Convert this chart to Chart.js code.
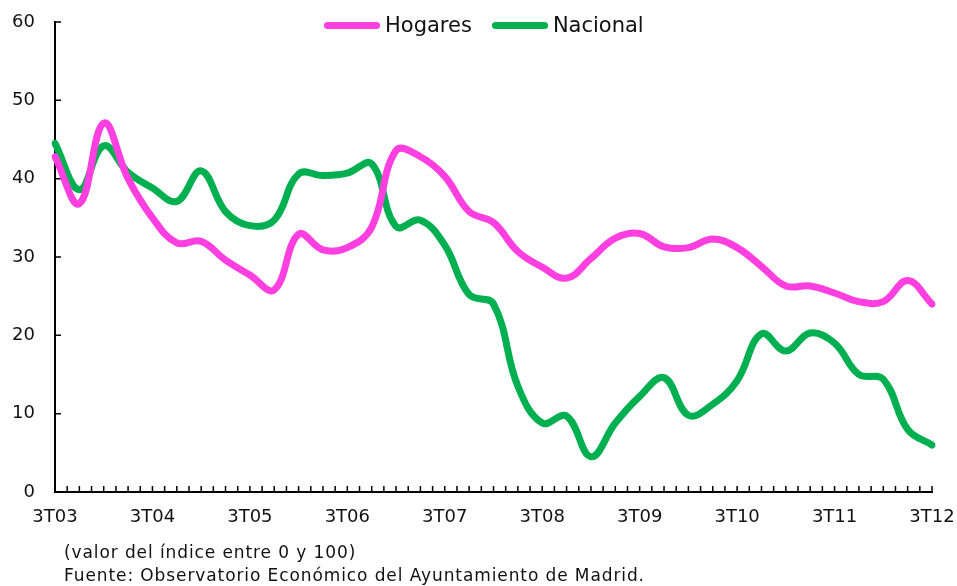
<!DOCTYPE html>
<html>
<head>
<meta charset="utf-8">
<script src="https://cdn.jsdelivr.net/npm/chart.js@4"></script>
<style>
  body { margin: 0; background: #fff; }
  #wrap { position: relative; width: 957px; height: 586px; }
  #legend { position: absolute; left: 324px; top: 13px; display: flex; align-items: center;
            font: 21px "DejaVu Sans", sans-serif; color: #111; white-space: nowrap; }
  #legend .item { display: flex; align-items: center; margin-right: 20px; }
  #legend .swatch { width: 56px; height: 7px; border-radius: 4px; margin-right: 5px; }
  #note { position: absolute; left: 64px; top: 541px; font: 17px "DejaVu Sans", sans-serif;
          color: #111; line-height: 23px; letter-spacing: 0.9px; white-space: nowrap; }
</style>
</head>
<body>
<div id="wrap">
  <canvas id="myChart" width="957" height="586"></canvas>
  <div id="legend"></div>
  <div id="note">(valor del índice entre 0 y 100)<br>Fuente: Observatorio Económico del Ayuntamiento de Madrid.</div>
</div>
<script>
// quarters, 3T03 .. 3T12
var quarters = ['3T03','4T03','1T04','2T04','3T04','4T04','1T05','2T05','3T05','4T05','1T06','2T06',
                '3T06','4T06','1T07','2T07','3T07','4T07','1T08','2T08','3T08','4T08','1T09','2T09',
                '3T09','4T09','1T10','2T10','3T10','4T10','1T11','2T11','3T11','4T11','1T12','2T12','3T12'];

// índice de confianza de los hogares (Madrid)
var hogares = [42.8, 36.8, 47.1, 40.0, 35.0, 31.8, 32.0, 29.6, 27.7, 25.8, 32.9, 30.9,
               31.2, 33.8, 43.6, 42.8, 40.3, 35.8, 34.4, 30.7, 28.7, 27.3, 29.8, 32.4,
               33.0, 31.3, 31.2, 32.3, 31.2, 28.8, 26.3, 26.3, 25.4, 24.3, 24.3, 27.0, 24.0];

// índice nacional
var nacional = [44.5, 38.6, 44.2, 40.8, 38.8, 37.1, 41.0, 35.8, 34.0, 34.7, 40.6, 40.4,
                40.7, 41.9, 33.9, 34.7, 31.5, 25.2, 24.0, 13.5, 8.8, 9.7, 4.5, 8.8,
                12.2, 14.6, 9.8, 11.2, 14.2, 20.2, 18.0, 20.3, 19.0, 15.0, 14.4, 8.0, 6.0];

var yTicks = [0, 10, 20, 30, 40, 50, 60];

Chart.defaults.font.family = '"DejaVu Sans", sans-serif';
Chart.defaults.color = '#111';

// tick marks drawn inside the plot, as in the original
var innerTicks = {
    id: 'innerTicks',
    beforeDatasetsDraw: function(chart) {
        var ctx = chart.ctx, xs = chart.scales.x, ys = chart.scales.y, area = chart.chartArea;
        ctx.save();
        ctx.strokeStyle = '#000';
        ctx.lineWidth = 1.5;
        ctx.beginPath();
        for (var i = 0; i < quarters.length; i++) {
            var px = xs.getPixelForValue(i);
            ctx.moveTo(px, area.bottom); ctx.lineTo(px, area.bottom - 6);
            if (i < quarters.length - 1) {
                var mid = (px + xs.getPixelForValue(i + 1)) / 2;
                ctx.moveTo(mid, area.bottom); ctx.lineTo(mid, area.bottom - 6);
            }
        }
        ys.ticks.forEach(function(t) {
            var py = ys.getPixelForValue(t.value);
            ctx.moveTo(area.left, py); ctx.lineTo(area.left + 6, py);
        });
        ctx.stroke();
        ctx.restore();
    }
};

var ctx = document.getElementById('myChart').getContext('2d');
var myChart = new Chart(ctx, {
    type: 'line',
    data: {
        labels: quarters,
        datasets: [{
            label: 'Hogares',
            data: hogares,
            borderColor: '#ff3fe0',
            backgroundColor: '#ff3fe0'
        }, {
            label: 'Nacional',
            data: nacional,
            borderColor: '#00b050',
            backgroundColor: '#00b050'
        }]
    },
    options: {
        responsive: false,
        animation: false,
        layout: { padding: { top: 22, right: 25, left: 0, bottom: 0 } },
        elements: {
            line: { borderWidth: 7, tension: 0.4, borderCapStyle: 'round', borderJoinStyle: 'round', fill: false },
            point: { radius: 0, hoverRadius: 0 }
        },
        plugins: { legend: { display: false }, tooltip: { enabled: false } },
        scales: {
            x: {
                afterFit: function(s) { s.height = 94; s.paddingLeft = 0; s.paddingRight = 0; },
                grid: { drawOnChartArea: false, drawTicks: false },
                border: { color: '#000', width: 2 },
                ticks: {
                    autoSkip: false, maxRotation: 0, padding: 15,
                    font: { size: 18 },
                    callback: function(val, idx) { return idx % 4 === 0 ? quarters[idx] : ''; }
                }
            },
            y: {
                min: 0, max: 60,
                afterFit: function(s) { s.width = 55; s.paddingTop = 0; s.paddingBottom = 0; },
                afterBuildTicks: function(s) { s.ticks = yTicks.map(function(v) { return { value: v }; }); },
                grid: { drawOnChartArea: false, drawTicks: false },
                border: { color: '#000', width: 2 },
                ticks: { padding: 20, font: { size: 18 } }
            }
        }
    },
    plugins: [innerTicks]
});

// legend built from the datasets
var legend = document.getElementById('legend');
myChart.data.datasets.forEach(function(ds) {
    var item = document.createElement('span');
    item.className = 'item';
    var sw = document.createElement('span');
    sw.className = 'swatch';
    sw.style.background = ds.borderColor;
    item.appendChild(sw);
    item.appendChild(document.createTextNode(ds.label));
    legend.appendChild(item);
});
</script>
</body>
</html>
